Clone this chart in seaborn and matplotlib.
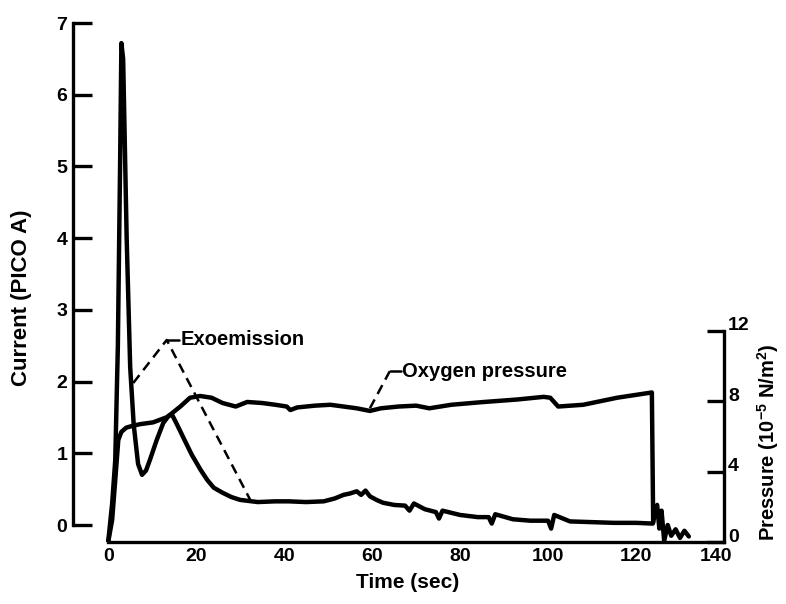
import matplotlib
matplotlib.use("Agg")
import matplotlib.pyplot as plt
import matplotlib.transforms as mtransforms
import seaborn as sns
import pandas as pd

# exoemission current (pico A) vs time (sec)
exo_time = [0, 0.9, 1.6, 2.2, 2.7, 3.0, 3.4, 4.2, 5.0, 5.8, 6.8, 7.7, 8.6, 9.5,
            11.0, 12.5, 13.7, 14.5, 15.5, 17.0, 19.0, 21.0, 22.5, 24.0, 26.0,
            28.0, 30.0, 34.0, 38.0, 41.0, 45.0, 49.0, 51.5, 53.5, 55.0, 56.5,
            57.5, 58.5, 59.5, 61.0, 62.5, 65.0, 67.5, 68.5, 69.5, 72.0, 74.5,
            75.2, 76.0, 80.0, 84.0, 86.5, 87.2, 88.0, 92.0, 96.0, 100.0, 100.7,
            101.4, 105.0, 110.0, 115.0, 120.0, 123.8, 124.8, 125.3, 125.8,
            126.4, 127.2, 128.0, 129.0, 130.0, 131.0, 132.0]
exo_current = [-0.237, 0.3, 0.9, 2.5, 5.0, 6.72, 6.5, 4.0, 2.2, 1.4, 0.85, 0.70,
               0.76, 0.91, 1.18, 1.42, 1.52, 1.54, 1.42, 1.23, 0.98, 0.77, 0.63,
               0.52, 0.45, 0.39, 0.35, 0.32, 0.33, 0.33, 0.32, 0.33, 0.37, 0.42,
               0.44, 0.47, 0.42, 0.48, 0.40, 0.35, 0.31, 0.28, 0.27, 0.20, 0.30,
               0.22, 0.18, 0.09, 0.20, 0.14, 0.11, 0.11, 0.02, 0.15, 0.08, 0.06,
               0.06, -0.05, 0.14, 0.05, 0.04, 0.03, 0.03, 0.02, 0.28, -0.05,
               0.20, -0.22, 0.0, -0.15, -0.06, -0.18, -0.08, -0.16]

# oxygen pressure (1e-5 N/m^2) vs time (sec)
o2_time = [0, 0.9, 1.6, 2.3, 3.0, 4.1, 5.5, 7.3, 10.2, 13.4, 16.4, 18.6, 20.9,
           23.5, 26.0, 29.0, 31.6, 35.0, 38.0, 40.6, 41.4, 43.0, 47.0, 50.5,
           53.5, 56.5, 59.5, 62.0, 66.0, 70.0, 73.0, 78.0, 85.0, 93.0, 99.0,
           100.5, 102.3, 108.0, 115.7, 123.6, 123.9]
o2_pressure = [0, 1.25, 3.5, 5.8, 6.26, 6.5, 6.6, 6.7, 6.8, 7.1, 7.7, 8.2, 8.3,
               8.2, 7.9, 7.7, 7.96, 7.9, 7.8, 7.7, 7.5, 7.65, 7.75, 7.8, 7.7,
               7.6, 7.45, 7.6, 7.7, 7.75, 7.6, 7.8, 7.95, 8.1, 8.25, 8.2, 7.7,
               7.8, 8.2, 8.5, 1.1]

x_ticks = [0, 20, 40, 60, 80, 100, 120, 140]
current_ticks = [0, 1, 2, 3, 4, 5, 6, 7]
pressure_ticks = [0, 4, 8, 12]

sns.set_theme(style="white")
plt.rcParams["font.family"] = ["Liberation Sans", "DejaVu Sans"]
plt.rcParams["font.weight"] = "bold"
plt.rcParams["mathtext.fontset"] = "custom"
plt.rcParams["mathtext.rm"] = "Liberation Sans:bold"
plt.rcParams["mathtext.default"] = "rm"
INK = "black"
for k in ["text.color", "axes.labelcolor", "xtick.color", "ytick.color"]:
    plt.rcParams[k] = INK

fig = plt.figure(figsize=(7.86, 6.04), dpi=100)
ax = fig.add_axes([73 / 786, 1 - 542 / 604, 651 / 786, 519 / 604])
ax2 = ax.twinx()

exo = pd.DataFrame({"t": exo_time, "c": exo_current})
o2 = pd.DataFrame({"t": o2_time, "p": o2_pressure})
sns.lineplot(data=exo, x="t", y="c", ax=ax, color=INK, linewidth=3.2, sort=False)
sns.lineplot(data=o2, x="t", y="p", ax=ax2, color=INK, linewidth=3.2, sort=False)

ax.set_xlim(-8, 140)
ax.set_ylim(-0.237, 7.0)
ax2.set_ylim(0, 29.5)

ax.set_xticks(x_ticks)
ax.set_yticks(current_ticks)
ax2.set_yticks(pressure_ticks)
ax.set_xlabel("")
ax.set_ylabel("")
ax2.set_ylabel("")

for s in ["top", "right"]:
    ax.spines[s].set_visible(False)
for s in ["top", "left", "bottom"]:
    ax2.spines[s].set_visible(False)
ax.spines["left"].set_bounds(0, 7)
ax.spines["bottom"].set_bounds(0, 140)
ax2.spines["right"].set_bounds(0, 12)
for sp in [ax.spines["left"], ax.spines["bottom"], ax2.spines["right"]]:
    sp.set_linewidth(2.4)
    sp.set_color(INK)

ax.tick_params(axis="y", direction="in", length=14, width=2.4, labelsize=14, pad=4)
ax.tick_params(axis="x", direction="in", length=12, width=2.0, labelsize=14, pad=4)
ax2.tick_params(axis="y", direction="in", length=12, width=2.4, labelsize=14, pad=3)
for lab in ax.get_xticklabels() + ax.get_yticklabels() + ax2.get_yticklabels():
    lab.set_fontweight("bold")
# right-hand labels sit a little above their ticks, as in the original
shift_up = mtransforms.ScaledTranslation(0, 5 / 72, fig.dpi_scale_trans)
for lab in ax2.get_yticklabels():
    lab.set_transform(lab.get_transform() + shift_up)
# 140 sits just left of the corner
ax.get_xticklabels()[-1].set_transform(
    ax.get_xticklabels()[-1].get_transform()
    + mtransforms.ScaledTranslation(-6 / 72, 0, fig.dpi_scale_trans))

# annotation leaders
ax.plot([5.7, 13.3, 32.3], [1.98, 2.58, 0.35], color=INK, lw=1.8, ls=(0, (4, 2.5)))
ax.plot([13.3, 16.0], [2.58, 2.58], color=INK, lw=1.8)
ax.text(16.4, 2.58, "Exoemission", fontsize=14.5, fontweight="bold", ha="left", va="center")
ax2.plot([59.5, 64.0], [7.6, 9.7], color=INK, lw=1.8, ls=(0, (4, 2.5)))
ax2.plot([64.0, 66.5], [9.7, 9.7], color=INK, lw=1.8)
ax2.text(66.8, 9.7, "Oxygen pressure", fontsize=14.5, fontweight="bold", ha="left", va="center")

fig.text(408 / 786, 1 - 582 / 604, "Time (sec)", fontsize=15, fontweight="bold",
         ha="center", va="center")
fig.text(22 / 786, 1 - 298 / 604, "Current (PICO A)", fontsize=16, fontweight="bold",
         ha="center", va="center", rotation=90)
fig.text(768 / 786, 1 - 442 / 604, "Pressure (10$^{-5}$ N/m$^{2}$)", fontsize=14.5,
         fontweight="bold", ha="center", va="center", rotation=90)

fig.savefig("out.png", dpi=100)
